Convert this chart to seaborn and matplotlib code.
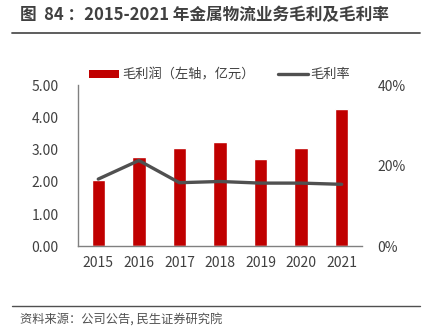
import matplotlib
matplotlib.use("Agg")
import matplotlib.pyplot as plt
import seaborn as sns
import pandas as pd
import numpy as np
from matplotlib.lines import Line2D
from matplotlib.patches import Patch

years = ["2015", "2016", "2017", "2018", "2019", "2020", "2021"]
gross_profit = [2.06, 2.76, 3.04, 3.22, 2.72, 3.06, 4.25]
gross_margin = [16.7, 21.3, 15.8, 16.1, 15.7, 15.7, 15.4]
left_ticks = [0, 1, 2, 3, 4, 5]
right_ticks = [0, 20, 40]

sns.set_theme(style="white")
plt.rcParams['font.family'] = ['Noto Sans CJK SC', 'DejaVu Sans']

df = pd.DataFrame({"year": years, "profit": gross_profit, "margin": gross_margin})
df["pos"] = np.arange(len(years))

fig = plt.figure(figsize=(4.22, 3.36), dpi=100)
ax = fig.add_axes([0.1848, 0.2664, 0.6730, 0.4806])
sns.barplot(data=df, x="year", y="profit", color="#C00000", saturation=1,
            width=0.33, ax=ax)
ax.set_ylim(0, 5)
ax.set_xlim(-0.5, 6.5)
ax.set_yticks(left_ticks)
ax.set_yticklabels([f"{v:.2f}" for v in left_ticks])
ax.set_xlabel("")
ax.set_ylabel("")
for s in ["top", "right"]:
    ax.spines[s].set_visible(False)
for s in ["left", "bottom"]:
    ax.spines[s].set_color("#808080")
    ax.spines[s].set_linewidth(1.0)
ax.tick_params(axis="both", length=0, labelsize=10, colors="#404040")
ax.tick_params(axis="y", pad=14)
ax.tick_params(axis="x", pad=7)

ax2 = ax.twinx()
sns.lineplot(data=df, x="pos", y="margin", color="#505050", linewidth=2.4, ax=ax2)
ax2.set_ylim(0, 40)
ax2.set_xlim(-0.5, 6.5)
ax2.set_yticks(right_ticks)
ax2.set_yticklabels([f"{v}%" for v in right_ticks])
ax2.set_xlabel("")
ax2.set_ylabel("")
for s in ["top", "right", "left", "bottom"]:
    ax2.spines[s].set_visible(False)
ax2.tick_params(axis="y", length=0, labelsize=10, colors="#404040", pad=11)

handles = [Patch(facecolor="#C00000", edgecolor="none"),
           Line2D([0], [0], color="#505050", linewidth=2.4)]
fig.legend(handles, ["毛利润（左轴，亿元）", "毛利率"], loc="center left",
           bbox_to_anchor=(0.183, 0.777), ncol=2, frameon=False, fontsize=9.5,
           handlelength=2.3, handleheight=0.6, handletextpad=0.2, columnspacing=1.75,
           labelcolor="#404040")

fig.text(0.047, 0.955, "图  84 ：2015-2021 年金属物流业务毛利及毛利率", fontsize=12,
         fontweight="bold", color="#404040", va="center", ha="left")
fig.add_artist(Line2D([0.028, 0.995], [0.902, 0.902], color="#505050", linewidth=1.3))
fig.add_artist(Line2D([0.028, 0.995], [0.089, 0.089], color="#505050", linewidth=1.0))
fig.text(0.047, 0.05, "资料来源：公司公告, 民生证券研究院", fontsize=8.8, color="#505050",
         va="center", ha="left")

fig.savefig("out.png", dpi=100)
